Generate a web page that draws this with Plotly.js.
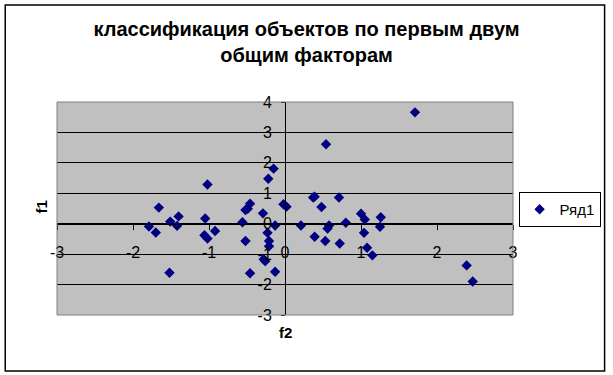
<!DOCTYPE html>
<html><head><meta charset="utf-8">
<script src="https://cdn.plot.ly/plotly-3.0.1.min.js"></script>
<style>html,body{margin:0;padding:0;background:#fff}</style>
</head><body><div id="chart" style="width:613px;height:375px"></div>
<script>
// Data
const f2 = [-1.66,-1.40,-1.51,-1.79,-1.42,-1.70,-1.52,-1.02,-1.05,-1.06,-1.02,-0.92,-0.56,-0.52,-0.52,-0.49,-0.46,-0.29,-0.13,-0.23,-0.21,-0.21,-0.28,-0.26,-0.13,-0.46,-0.15,-0.22,-0.02,0.02,0.21,0.39,0.37,0.71,0.48,0.54,1.71,0.39,0.53,0.58,0.56,0.80,0.72,1.00,1.05,1.26,1.25,1.04,1.08,1.15,2.39,2.47];
const f1 = [0.53,0.24,0.07,-0.09,-0.07,-0.29,-1.61,1.29,0.17,-0.38,-0.49,-0.24,0.05,-0.57,0.45,0.49,0.66,0.34,-0.06,-0.30,-0.57,-0.74,-1.17,-1.23,-1.58,-1.63,1.81,1.48,0.64,0.56,-0.06,0.89,0.86,0.86,0.55,2.61,3.66,-0.43,-0.57,-0.06,-0.16,0.03,-0.65,0.33,0.14,0.21,-0.10,-0.30,-0.79,-1.04,-1.37,-1.90];
const seriesName = 'Ряд1';
const xTicks = [-3,-2,-1,0,1,2,3];
const yTicks = [-3,-2,-1,0,1,2,3,4];
const chartTitle = 'классификация объектов по первым двум<br>общим факторам';
const xTitle = 'f2';
const yTitle = 'f1';

const W = 613, H = 375;
const M = {l:57, r:98, t:102, b:60};
const PW = W - M.l - M.r, PH = H - M.t - M.b;
const px = v => (v - M.l) / PW;          // pixel x -> paper x
const py = v => (H - M.b - v) / PH;      // pixel y -> paper y

const xr = [xTicks[0], xTicks[xTicks.length-1]];
const yr = [yTicks[0], yTicks[yTicks.length-1]];

const trace = {
  type:'scatter', mode:'markers', x:f2, y:f1, name:seriesName,
  marker:{symbol:'diamond', size:8, color:'#000080', line:{width:0}},
  showlegend:true
};

const tickFont = {family:'Liberation Sans, Arial, sans-serif', size:16, color:'#000'};

const layout = {
  width:W, height:H, margin:M,
  paper_bgcolor:'#fff', plot_bgcolor:'#c0c0c0',
  title:{text:chartTitle, font:{family:'Liberation Sans, Arial, sans-serif', size:20, color:'#000', weight:'bold'},
         x:0.5, xref:'container', xanchor:'center', y:1-36/H, yref:'container', yanchor:'top', automargin:false},
  xaxis:{range:xr, tickvals:xTicks, ticktext:xTicks.map(String), anchor:'free',
         position:(0-yr[0])/(yr[1]-yr[0]), showgrid:false, zeroline:false,
         showline:true, linecolor:'#000', linewidth:1, ticks:'outside', ticklen:5, tickcolor:'#000',
         tickfont:tickFont, ticklabelstandoff:9, fixedrange:true},
  yaxis:{range:yr, tickvals:yTicks, ticktext:yTicks.map(String), anchor:'free',
         position:(0-xr[0])/(xr[1]-xr[0]), showgrid:true, gridcolor:'#000', gridwidth:1, zeroline:false,
         showline:true, linecolor:'#000', linewidth:1, ticks:'outside', ticklen:4, tickcolor:'#000',
         tickfont:tickFont, ticklabelstandoff:6, fixedrange:true},
  showlegend:true,
  legend:{x:px(603), xanchor:'right', y:py(209.5), yanchor:'middle', bgcolor:'#fff', bordercolor:'#000', borderwidth:1,
          font:{family:'Liberation Sans, Arial, sans-serif', size:15, color:'#000'}, itemwidth:30, tracegroupgap:0},
  shapes:[
    {type:'rect', xref:'paper', yref:'paper', x0:0, x1:1, y0:0, y1:1, line:{color:'#808080', width:1}, fillcolor:'rgba(0,0,0,0)', layer:'above'},
    {type:'rect', xref:'paper', yref:'paper', x0:px(5), x1:px(607), y0:py(371), y1:py(5), line:{color:'#000', width:1.5}, fillcolor:'rgba(0,0,0,0)', layer:'below'}
  ],
  annotations:[
    {text:'<b>'+xTitle+'</b>', xref:'paper', yref:'paper', x:px(286), y:py(343), showarrow:false,
     font:{family:'Liberation Sans, Arial, sans-serif', size:15, color:'#000'}},
    {text:'<b>'+yTitle+'</b>', xref:'paper', yref:'paper', x:px(30), y:py(207), showarrow:false, textangle:-90,
     font:{family:'Liberation Sans, Arial, sans-serif', size:15, color:'#000'}}
  ]
};

Plotly.newPlot('chart', [trace], layout, {staticPlot:true, displayModeBar:false});
</script>
</body></html>
